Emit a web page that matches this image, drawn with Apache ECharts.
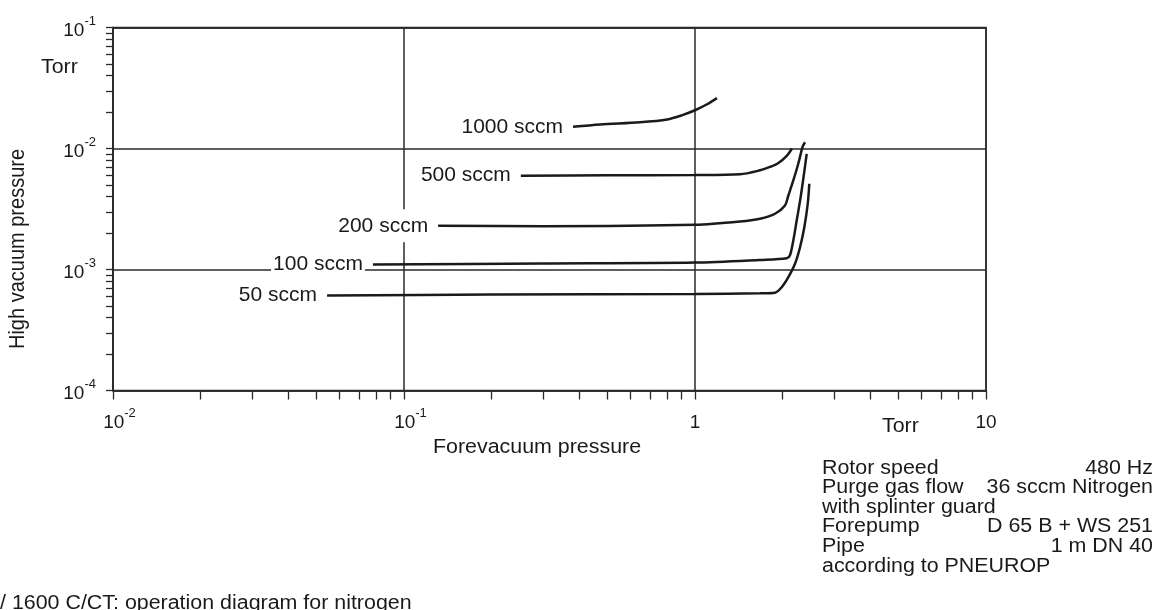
<!DOCTYPE html>
<html>
<head>
<meta charset="utf-8">
<script src="https://cdn.jsdelivr.net/npm/echarts@6/dist/echarts.min.js"></script>
<style>
html,body{margin:0;padding:0;background:#fff;}
#chart{width:1166px;height:610px;}
</style>
</head>
<body>
<div id="chart"></div>
<script>
// ---- data (forevacuum pressure [Torr], high vacuum pressure [Torr]) ----
const seriesNames = ['1000 sccm', '500 sccm', '200 sccm', '100 sccm', '50 sccm'];
const sccm1000 = [[0.381,0.0151],[0.472,0.0158],[0.647,0.0165],[0.802,0.0174],[0.9,0.0188],[1.0,0.0207],[1.1,0.0232],[1.19,0.0261]];
const sccm500 = [[0.252,0.00596],[0.5,0.00600],[1.0,0.00603],[1.428,0.00612],[1.673,0.00660],[1.81,0.00704],[1.929,0.00756],[2.071,0.00875],[2.154,0.0100]];
const sccm200 = [[0.131,0.00230],[0.3,0.00228],[1.0,0.00234],[1.428,0.00249],[1.673,0.00263],[1.884,0.00289],[2.038,0.00338],[2.093,0.00409],[2.177,0.00544],[2.265,0.00752],[2.344,0.01035],[2.388,0.01127]];
const sccm100 = [[0.0782,0.00110],[0.3,0.00112],[1.0,0.00114],[1.673,0.00120],[2.066,0.00124],[2.12,0.00131],[2.177,0.00174],[2.236,0.00254],[2.307,0.00396],[2.369,0.00618],[2.42,0.00904]];
const sccm50 = [[0.0544,0.00061],[0.2,0.00062],[1.0,0.000627],[1.673,0.000636],[1.884,0.000643],[1.986,0.000714],[2.093,0.000864],[2.206,0.001114],[2.296,0.001528],[2.375,0.002237],[2.44,0.00349],[2.471,0.00511]];
const seriesData = [sccm1000, sccm500, sccm200, sccm100, sccm50];

// axis ranges and tick labels
const xRange = [0.01, 10];
const yRange = [0.0001, 0.1];
const xDecades = [0.01, 0.1, 1];
const yDecades = [0.0001, 0.001, 0.01];
const tickMultipliers = [1, 2, 3, 4, 5, 6, 7, 8, 9];
const xUnit = 'Torr';
const yUnit = 'Torr';
const xTitle = 'Forevacuum pressure';
const yTitle = 'High vacuum pressure';
const infoRows = [
  ['Rotor speed', '480 Hz'],
  ['Purge gas flow', '36 sccm Nitrogen'],
  ['with splinter guard', ''],
  ['Forepump', 'D 65 B + WS 251'],
  ['Pipe', '1 m DN 40'],
  ['according to PNEUROP', '']
];
const caption = '/ 1600 C/CT: operation diagram for nitrogen';

function minorTicks(decades, top) {
  const out = [];
  decades.forEach(d => tickMultipliers.forEach(m => out.push(+(d * m).toPrecision(6))));
  out.push(top);
  return out;
}

const FONT = '"Liberation Sans", Arial, Helvetica, sans-serif';
const INK = '#1a1a1a';
const GRIDC = '#2a2a2a';
const SX = 1.07;

function powLabel(v, padLeft) {
  const e = Math.round(Math.log10(v));
  if (e === 0) return '{b|1}';
  if (e === 1) return '{b|10}';
  return (padLeft ? '{sp|}' : '') + '{b|10}{sup|' + e + '}';
}
const richLab = {
  b: { fontSize: 19, fontFamily: FONT, color: INK, lineHeight: 26, verticalAlign: 'bottom' },
  sup: { fontSize: 13, fontFamily: FONT, color: INK, lineHeight: 14, verticalAlign: 'top' },
  sp: { width: 13 }
};

const chart = echarts.init(document.getElementById('chart'), null, { renderer: 'canvas' });

const series = seriesNames.map((name, i) => ({
  name: name,
  type: 'line',
  xAxisIndex: 0,
  yAxisIndex: 0,
  smooth: 0.3,
  symbol: 'circle',
  symbolSize: 0,
  showSymbol: true,
  lineStyle: { color: INK, width: 2.5 },
  itemStyle: { color: INK },
  emphasis: { disabled: true },
  z: 3,
  data: seriesData[i].map((p, j) => j === 0 ? {
    value: p,
    label: {
      show: true, position: 'left', distance: 8, formatter: name,
      fontSize: 21, fontFamily: FONT, color: INK,
      backgroundColor: '#fff', padding: [6, 2, 6, 2]
    }
  } : { value: p })
}));

const axisLineStyle = { color: GRIDC, width: 1.5 };

function txt(text, x, y, align, extra) {
  return Object.assign({
    type: 'text', x: x, y: y, scaleX: SX, silent: true,
    style: { text: text, fontSize: 20, fontFamily: FONT, fill: INK, align: align, verticalAlign: 'middle' }
  }, extra || {});
}

const option = {
  animation: false,
  backgroundColor: '#fff',
  grid: {
    left: 113, right: 180, top: 27.5, bottom: 219.5,
    containLabel: false, outerBoundsMode: 'none',
    show: true, borderColor: GRIDC, borderWidth: 1.5, backgroundColor: 'transparent'
  },
  xAxis: [{
    type: 'log', logBase: 10, min: xRange[0], max: xRange[1], position: 'bottom',
    axisLine: { show: true, lineStyle: axisLineStyle },
    axisTick: { show: false },
    axisLabel: { show: true, margin: 16, formatter: v => powLabel(v, true), rich: richLab },
    splitLine: { show: true, lineStyle: { color: GRIDC, width: 1.5 } }
  }, {
    type: 'log', logBase: 10, min: xRange[0], max: xRange[1], position: 'bottom', offset: 0,
    axisLine: { show: false },
    axisTick: { show: true, inside: false, length: 9, customValues: minorTicks(xDecades, xRange[1]), lineStyle: { color: GRIDC, width: 1.3 } },
    axisLabel: { show: false },
    splitLine: { show: false }
  }],
  yAxis: [{
    type: 'log', logBase: 10, min: yRange[0], max: yRange[1], position: 'left',
    axisLine: { show: true, lineStyle: axisLineStyle },
    axisTick: { show: false },
    axisLabel: { show: true, margin: 17, formatter: v => powLabel(v, false), rich: richLab },
    splitLine: { show: true, lineStyle: { color: GRIDC, width: 1.5 } }
  }, {
    type: 'log', logBase: 10, min: yRange[0], max: yRange[1], position: 'left', offset: 0,
    axisLine: { show: false },
    axisTick: { show: true, inside: false, length: 7, customValues: minorTicks(yDecades, yRange[1]), lineStyle: { color: GRIDC, width: 1.3 } },
    axisLabel: { show: false },
    splitLine: { show: false }
  }],
  series: series,
  graphic: [
    txt(yUnit, 41, 67, 'left'),
    Object.assign(txt(yTitle, 18.5, 249, 'center'), { rotation: Math.PI / 2, scaleX: 1, scaleY: SX }),
    txt(xTitle, 537, 447, 'center'),
    txt(xUnit, 882, 426, 'left'),
    txt(caption, 0, 603, 'left')
  ].concat(infoRows.map((r, i) => ({
    type: 'group', children: [
      txt(r[0], 822, 468 + i * 19.6, 'left'),
      txt(r[1], 1153, 468 + i * 19.6, 'right')
    ]
  })))
};

chart.setOption(option);
</script>
</body>
</html>
